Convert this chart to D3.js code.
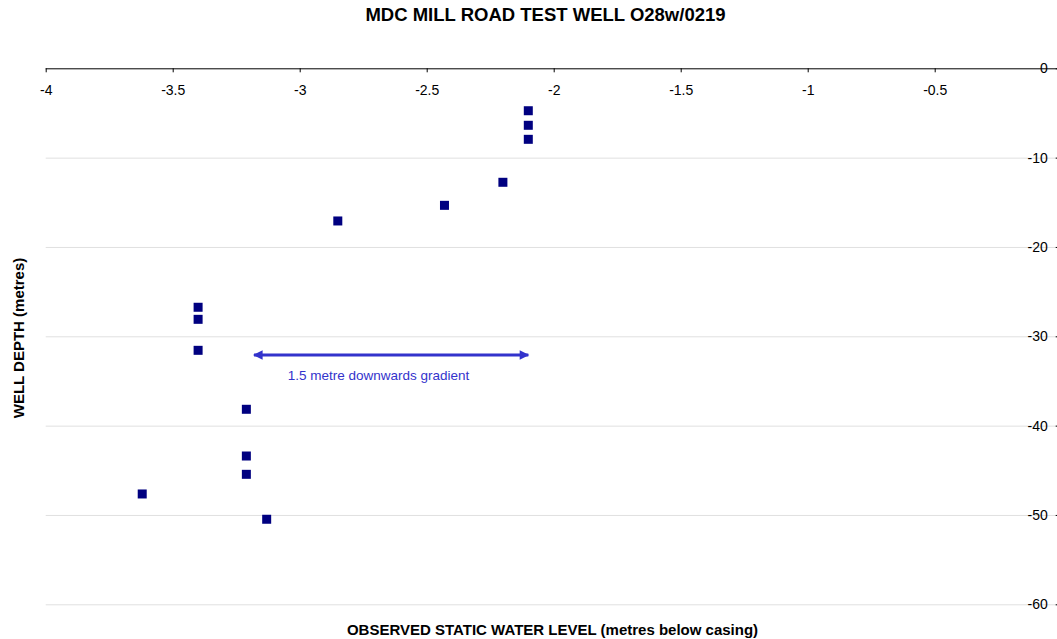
<html>
<head>
<meta charset="utf-8">
<script src="https://cdn.jsdelivr.net/npm/d3@7"></script>
<style>
  body { margin: 0; background: #fff; }
  svg text { font-family: "Liberation Sans", Arial, sans-serif; }
  .grid line { stroke: #e0e0e0; stroke-width: 1px; }
  .grid path { display: none; }
</style>
</head>
<body>
<div id="chart"></div>
<script>
// observed static water level (m below casing) and well depth (m)
var waterLevel = [-2.1, -2.1, -2.1, -2.2, -2.43, -2.85, -3.4, -3.4, -3.4, -3.21, -3.21, -3.21, -3.62, -3.13];
var wellDepth  = [-4.75, -6.38, -7.95, -12.76, -15.34, -17.09, -26.75, -28.1, -31.57, -38.17, -43.4, -45.45, -47.65, -50.48];
var xTicks = [-4, -3.5, -3, -2.5, -2, -1.5, -1, -0.5];
var yTicks = [0, -10, -20, -30, -40, -50, -60];
// gradient annotation
var arrowLevels = [-3.18, -2.1];
var arrowDepth = -32.1;
var noteText = "1.5 metre downwards gradient";
var notePos = [-2.69, -34.9];

var data = waterLevel.map(function(v, i) { return { x: v, y: wellDepth[i] }; });

var W = 1057, H = 639;
var plotL = 45.7, plotR = 1061.7, plotT = 68.3, plotB = 604.3;

var xScale = d3.scaleLinear().domain([-4, 0]).range([plotL, plotR]);
var yScale = d3.scaleLinear().domain([0, -60]).range([plotT, plotB]);
var fmt = function(d) { return String(d); };

var svg = d3.select("#chart").append("svg")
  .attr("width", W).attr("height", H);

svg.append("defs").append("marker")
  .attr("id", "head")
  .attr("viewBox", "0 0 10 10")
  .attr("refX", 9).attr("refY", 5)
  .attr("markerWidth", 4).attr("markerHeight", 3.2)
  .attr("markerUnits", "strokeWidth")
  .attr("orient", "auto-start-reverse")
  .append("path").attr("d", "M0,0L10,5L0,10z").attr("fill", "#3333cc");

// horizontal gridlines
svg.append("g").attr("class", "grid")
  .attr("transform", "translate(" + plotR + ",0)")
  .call(d3.axisLeft(yScale).tickValues(yTicks.slice(1)).tickSize(plotR - plotL).tickFormat(""));

// x axis along the top (depth 0)
var xAxis = svg.append("g")
  .attr("transform", "translate(0," + yScale(0) + ")")
  .call(d3.axisBottom(xScale).tickValues(xTicks).tickSize(4).tickSizeOuter(0).tickPadding(13)
    .tickFormat(fmt));
xAxis.select(".domain").attr("d", "M" + plotL + ",0.5H" + W).attr("stroke", "#000");
xAxis.selectAll("text").attr("font-size", 14).attr("fill", "#000").attr("font-family", null);

// y axis on the right edge
var yAxis = svg.append("g")
  .attr("transform", "translate(" + plotR + ",0)")
  .call(d3.axisLeft(yScale).tickValues(yTicks).tickSize(6).tickPadding(8).tickFormat(fmt));
yAxis.select(".domain").remove();
yAxis.selectAll("text").attr("font-size", 14).attr("fill", "#000").attr("font-family", null);

// data points
svg.selectAll(".pt").data(data).enter().append("rect")
  .attr("class", "pt")
  .attr("x", function(d) { return xScale(d.x) - 4.5; })
  .attr("y", function(d) { return yScale(d.y) - 4.5; })
  .attr("width", 9).attr("height", 9)
  .attr("fill", "#000080");

// gradient arrow
svg.append("line")
  .attr("x1", xScale(arrowLevels[0])).attr("x2", xScale(arrowLevels[1]))
  .attr("y1", yScale(arrowDepth)).attr("y2", yScale(arrowDepth))
  .attr("stroke", "#3333cc").attr("stroke-width", 3)
  .attr("marker-start", "url(#head)").attr("marker-end", "url(#head)");
svg.append("text")
  .attr("x", xScale(notePos[0])).attr("y", yScale(notePos[1]))
  .attr("text-anchor", "middle").attr("font-size", 13.5).attr("fill", "#3333cc")
  .text(noteText);

// titles
svg.append("text").attr("x", 545.5).attr("y", 21)
  .attr("text-anchor", "middle").attr("font-size", 18.5).attr("font-weight", "bold")
  .text("MDC MILL ROAD TEST WELL O28w/0219");
svg.append("text").attr("x", 552.5).attr("y", 635)
  .attr("text-anchor", "middle").attr("font-size", 15).attr("font-weight", "bold")
  .text("OBSERVED STATIC WATER LEVEL (metres below casing)");
svg.append("text").attr("transform", "translate(24,338) rotate(-90)")
  .attr("text-anchor", "middle").attr("font-size", 15).attr("font-weight", "bold")
  .text("WELL DEPTH (metres)");
</script>
</body>
</html>
